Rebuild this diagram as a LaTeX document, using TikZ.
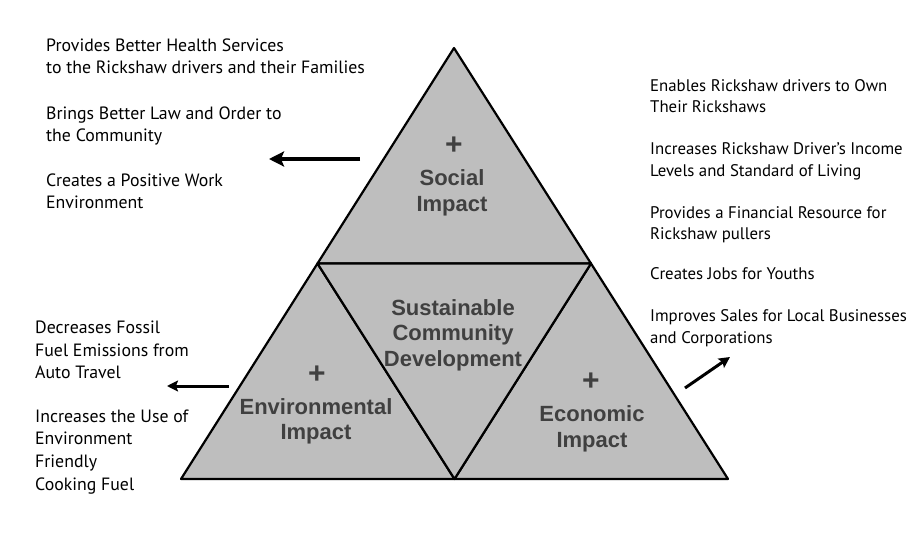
\documentclass[tikz,border=0pt]{standalone}
\usepackage{fontspec}
\setmainfont{PT Sans}
\newfontfamily\lblfont{Liberation Sans}
\usetikzlibrary{arrows.meta}
\definecolor{tri}{HTML}{BEBEBE}
\definecolor{lbl}{HTML}{404040}
\tikzset{
  txt/.style={inner sep=0pt, anchor=base west, font=\fontsize{17.8}{22}\selectfont},
  txtr/.style={inner sep=0pt, anchor=base west, font=\fontsize{16.8}{22}\selectfont},
  tlbl/.style={inner sep=0pt, align=center, text=lbl, font=\lblfont\bfseries\fontsize{22}{25.5}\selectfont},
  plus/.style={inner sep=0pt, text=lbl, font=\lblfont\bfseries\fontsize{30}{30}\selectfont},
  tribox/.style={draw=black, fill=tri, line width=2.2pt, line join=round},
  arr/.style={-{Stealth[length=15pt,width=15pt,inset=3pt]}, line width=4.5pt},
  arrs/.style={-{Stealth[length=11pt,width=11pt,inset=2pt]}, line width=3pt}
}
\begin{document}
\begin{tikzpicture}[x=1pt,y=-1pt]
\path[use as bounding box] (0,0) rectangle (919,543);
\coordinate (A) at (454,48);
\coordinate (B) at (181,479);
\coordinate (C) at (728,479);
\coordinate (D) at (317.5,263.5);
\coordinate (E) at (591,263.5);
\coordinate (F) at (454.5,479);
\draw[tribox] (A) -- (E) -- (D) -- cycle;
\draw[tribox] (D) -- (F) -- (B) -- cycle;
\draw[tribox] (E) -- (C) -- (F) -- cycle;
\draw[tribox] (D) -- (E) -- (F) -- cycle;
% triangle labels
\node[plus] (sp) at (454,146) {+};
\node[tlbl] (soc) at (452,193) {Social\\Impact};
\node[tlbl] (sus) at (453,335) {Sustainable\\Community\\Development};
\node[plus] (ep) at (317,375) {+};
\node[tlbl] (env) at (316,421.5) {Environmental\\Impact};
\node[plus] (cp) at (591,382) {+};
\node[tlbl] (eco) at (592,429) {Economic\\Impact};
% top-left text
\node[txt] (t1) at (46,52) {Provides Better Health Services};
\node[txt] (t2) at (46,74) {to the Rickshaw drivers and their Families};
\node[txt] (t3) at (46,119) {Brings Better Law and Order to};
\node[txt] (t4) at (46,141) {the Community};
\node[txt] (t5) at (46,186) {Creates a Positive Work};
\node[txt] (t6) at (46,208) {Environment};
% right text
\node[txtr] (r1) at (650,92) {Enables Rickshaw drivers to Own};
\node[txtr] (r2) at (650,113) {Their Rickshaws};
\node[txtr] (r3) at (650,154) {Increases Rickshaw Driver’s Income};
\node[txtr] (r4) at (650,176) {Levels and Standard of Living};
\node[txtr] (r5) at (650,218) {Provides a Financial Resource for};
\node[txtr] (r6) at (650,239) {Rickshaw pullers};
\node[txtr] (r7) at (650,279) {Creates Jobs for Youths};
\node[txtr] (r8) at (650,321) {Improves Sales for Local Businesses};
\node[txtr] (r9) at (650,343) {and Corporations};
% bottom-left text
\node[txt] (b1) at (35,333) {Decreases Fossil};
\node[txt] (b2) at (35,356) {Fuel Emissions from};
\node[txt] (b3) at (35,378) {Auto Travel};
\node[txt] (b4) at (35,422) {Increases the Use of};
\node[txt] (b5) at (35,444) {Environment};
\node[txt] (b6) at (35,467) {Friendly};
\node[txt] (b7) at (35,490) {Cooking Fuel};
% arrows
\coordinate (a1s) at (360,159);
\coordinate (a1e) at (269,159);
\coordinate (a2s) at (229,386);
\coordinate (a2e) at (167,386);
\coordinate (a3s) at (685,388);
\coordinate (a3e) at (730,357);
\draw[arr] (a1s) -- (a1e);
\draw[arrs] (a2s) -- (a2e);
\draw[arrs] (a3s) -- (a3e);
\end{tikzpicture}
\end{document}
